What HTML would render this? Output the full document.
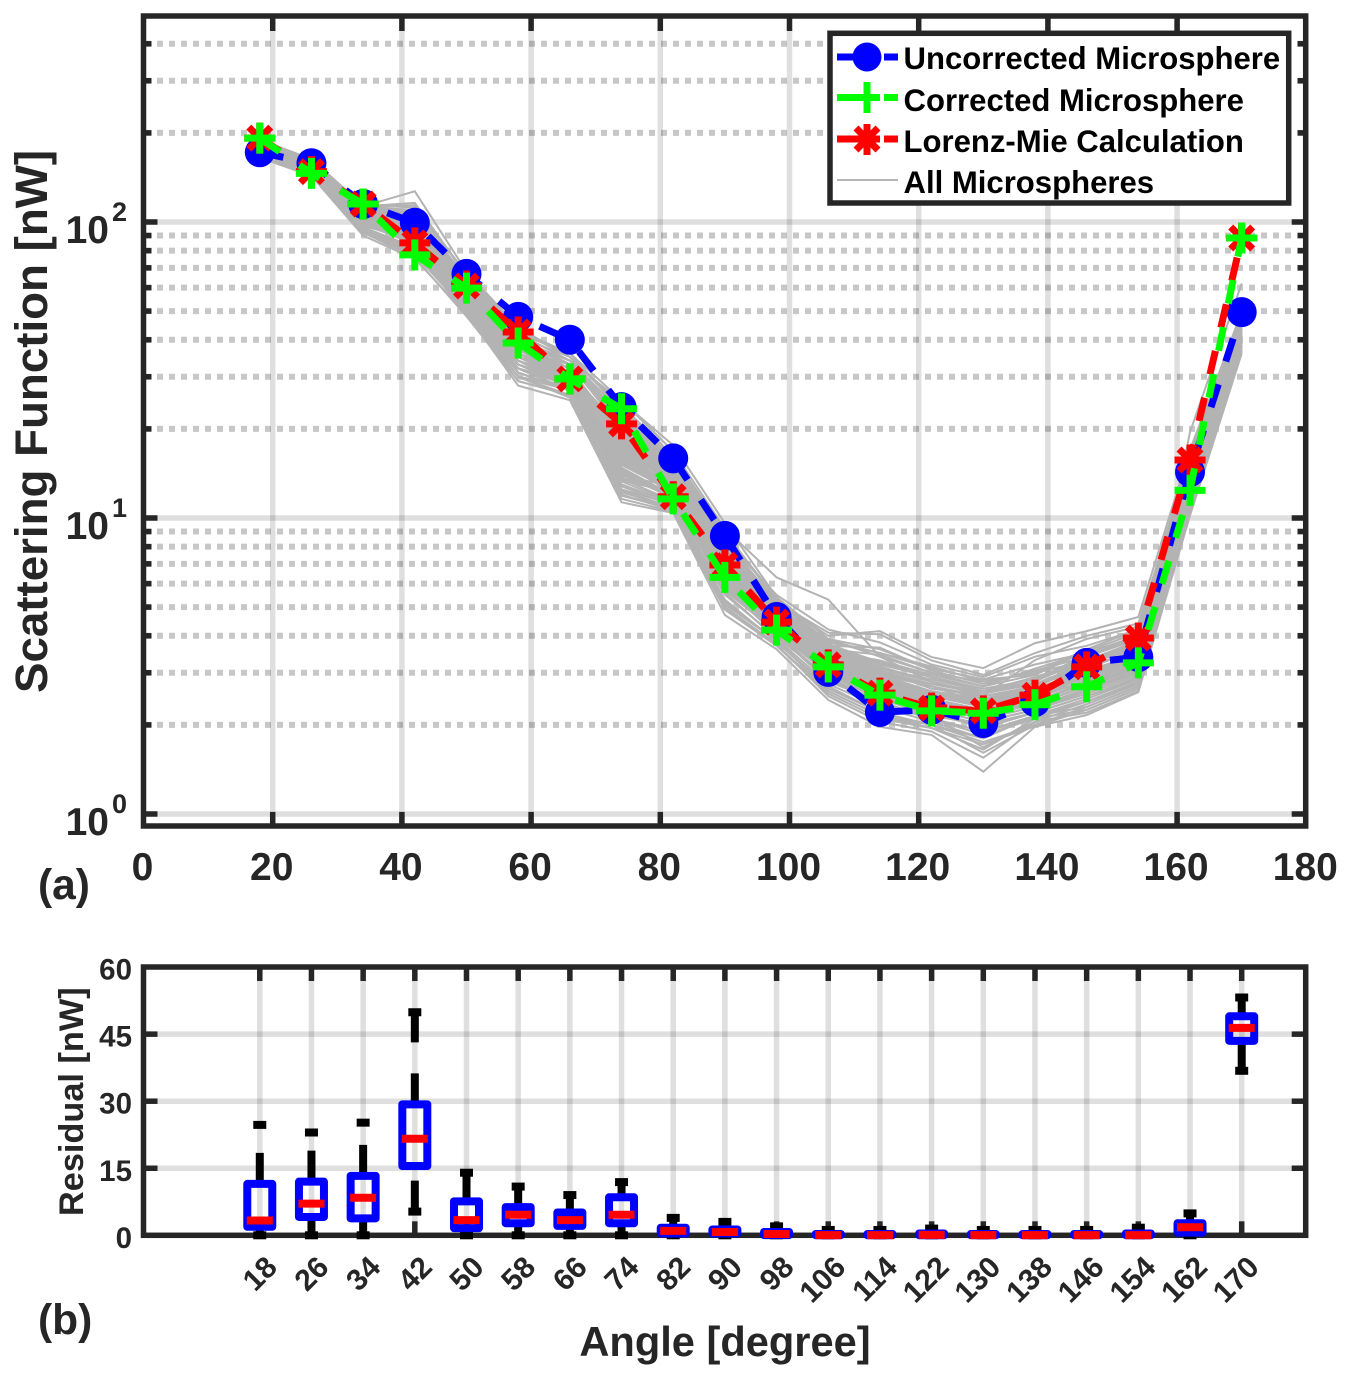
<!DOCTYPE html>
<html lang="en">
<head>
<meta charset="utf-8">
<title>Scattering Function and Residual Chart</title>
<style>
html,body{margin:0;padding:0;background:#fff;}
body{width:1352px;height:1378px;overflow:hidden;}
svg{display:block;font-family:"Liberation Sans",Arial,sans-serif;font-weight:bold;}
</style>
</head>
<body>
<svg id="chart" xmlns="http://www.w3.org/2000/svg" width="1352" height="1378" viewBox="0 0 1352 1378">
  <rect x="0" y="0" width="1352" height="1378" fill="#fff"/>
  <g id="top-grid"></g>
  <g id="bottom-grid"></g>
  <g id="gray-lines"></g>
  <g id="top-frame"></g>
  <g id="series-layer"></g>
  <g id="bottom-frame"></g>
  <g id="box-layer"></g>
  <g id="tick-labels"></g>

  <text transform="translate(47,693) rotate(-90)" font-size="45.7" fill="#262626">Scattering Function [nW]</text>
  <text transform="translate(83,1216) rotate(-90)" font-size="34.3" fill="#262626">Residual [nW]</text>
  <text x="725" y="1356" text-anchor="middle" font-size="41.6" fill="#262626">Angle [degree]</text>
  <text x="38" y="899" font-size="42.5" fill="#262626">(a)</text>
  <text x="38" y="1334" font-size="42.5" fill="#262626">(b)</text>

  <g id="legend">
    <rect x="830" y="33.3" width="458.7" height="169.7" fill="#fff" stroke="#262626" stroke-width="5.5"/>
    <g>
      <line x1="837" y1="57" x2="880" y2="57" stroke="#0000ff" stroke-width="7"/>
      <line x1="884" y1="57" x2="898" y2="57" stroke="#0000ff" stroke-width="7"/>
      <circle cx="867" cy="57" r="14.5" fill="#0000ff"/>
      <text x="903.5" y="69" font-size="31.1" fill="#000">Uncorrected Microsphere</text>
    </g>
    <g>
      <line x1="837" y1="97.5" x2="880" y2="97.5" stroke="#00ff00" stroke-width="7"/>
      <line x1="884" y1="97.5" x2="898" y2="97.5" stroke="#00ff00" stroke-width="7"/>
      <line x1="867" y1="82" x2="867" y2="113" stroke="#00ff00" stroke-width="7"/>
      <text x="903.5" y="111" font-size="31.1" fill="#000">Corrected Microsphere</text>
    </g>
    <g>
      <line x1="837" y1="139" x2="880" y2="139" stroke="#ff0000" stroke-width="7"/>
      <line x1="884" y1="139" x2="898" y2="139" stroke="#ff0000" stroke-width="7"/>
      <line x1="867" y1="124" x2="867" y2="155" stroke="#ff0000" stroke-width="7"/>
      <line x1="856" y1="128" x2="878" y2="150" stroke="#ff0000" stroke-width="7"/>
      <line x1="856" y1="150" x2="878" y2="128" stroke="#ff0000" stroke-width="7"/>
      <text x="903.5" y="152" font-size="31.1" fill="#000">Lorenz-Mie Calculation</text>
    </g>
    <g>
      <line x1="837" y1="180" x2="898" y2="180" stroke="#b5b5b5" stroke-width="2"/>
      <text x="903.5" y="193" font-size="31.1" fill="#000">All Microspheres</text>
    </g>
  </g>
</svg>

<script>
const angles = [18,26,34,42,50,58,66,74,82,90,98,106,114,122,130,138,146,154,162,170];
const uncorrected = [172,158,115,99.4,66.8,47.8,40,23.7,15.9,8.7,4.63,3.02,2.21,2.25,2.03,2.39,3.24,3.39,14.3,49.6];
const corrected = [192,146,115,77.4,59.8,39,29.5,23.4,11.6,6.3,4.18,3.14,2.52,2.23,2.19,2.34,2.69,3.24,12.4,88.3];
const lorenzMie = [192,148,115,85,60.8,42.5,29.5,20.8,11.8,6.94,4.45,3.19,2.56,2.28,2.23,2.52,3.14,3.93,15.7,88.3];

const allMicrospheres = [
[176,152,104,94,58,36,31,17.5,13.2,7.4,4.7,3.3,2.8,2.5,2.3,2.5,2.9,3.3,13.5,42],
[182,158,110,101,63,40,33,20.5,14.6,8.2,5.0,3.5,2.9,2.6,2.4,2.6,3.1,3.6,14.8,45],
[170,147,98,88,54,33,28,14.2,11.6,6.3,4.2,3.0,2.5,2.2,2.0,2.2,2.5,2.9,11.8,38],
[188,161,113,127,68,44,35,23.5,15.8,8.8,5.3,3.7,3.2,2.9,2.6,2.8,3.4,3.9,15.6,47],
[174,150,101,91,56,31,27,13.0,11.2,5.9,4.0,2.9,2.4,2.1,1.9,2.1,2.4,2.8,11.2,37],
[165,143,90,75,49,28,25,11.3,10.4,4.7,3.6,2.43,1.97,1.85,1.39,1.97,2.16,2.58,10.2,36],
[179,154,107,97,60,38,32,19.0,13.9,7.7,4.9,3.4,3.0,2.7,2.45,2.7,3.2,3.5,14.2,44],
[185,160,112,114,66,42,34,24.8,17.6,9.6,5.4,3.9,3.4,3.0,2.8,3.0,3.6,4.2,16.6,50],
[172,148,100,86,53,34,29,15.4,12.1,6.7,4.4,3.1,2.6,2.3,2.1,2.3,2.6,3.0,12.4,39],
[177,153,105,92,59,37,30,16.6,12.7,7.0,4.5,3.2,2.7,2.4,2.2,2.4,2.8,3.2,13.0,41],
[168,145,94,79,50,30,26,12.2,10.9,5.3,3.8,2.7,2.2,2.0,1.61,2.0,2.3,2.7,10.8,37],
[183,157,111,108,64,41,33,22.4,15.2,8.5,5.1,3.6,3.1,2.8,2.55,2.9,3.3,3.8,15.2,46],
[175,151,103,96,57,35,30,18.2,13.5,7.2,4.6,3.25,2.75,2.45,2.25,2.45,2.85,3.25,13.2,41.5],
[190,163,114,112,67,43,36,25,16.8,9.2,6.3,5.3,3.4,2.8,2.5,2.7,3.2,3.7,15.9,48],
[171,149,99,84,52,32,28,13.6,11.4,6.0,4.1,2.85,2.35,2.15,1.68,2.05,2.35,2.75,11.5,38],
[178,155,106,99,61,39,31,19.8,14.2,7.9,4.8,3.35,2.85,2.55,2.35,2.55,3.0,3.4,13.9,43],
[173,146,102,89,55,34,29,15.9,12.4,6.5,4.3,3.05,2.55,2.25,2.05,2.25,2.55,2.95,12.1,39.5],
[186,159,109,105,65,41,35,21.6,15.0,8.4,5.2,4.0,4.15,3.39,3.11,3.78,4.15,4.63,17,49],
[181,156,108,98,62,39,32,18.7,13.7,7.6,4.75,3.45,3.05,2.65,2.5,3.31,3.9,4.3,14.5,43.5],
[169,144,96,82,51,31,27,12.8,11.0,5.6,3.9,2.75,2.3,2.05,1.8,2.15,2.45,2.85,11.0,37.5],
[176,150,103,93,58,36,30,16.1,12.9,7.1,4.55,3.15,2.65,2.35,2.15,2.35,2.7,3.1,12.7,40],
[184,160,111,103,64,40,34,22.9,15.5,8.6,5.05,3.55,3.3,2.95,2.7,3.1,3.5,4.0,15.0,46.5],
[172,147,97,87,53,33,28,14.8,11.9,6.2,4.25,2.95,2.45,2.2,1.95,2.2,2.5,2.9,12.0,38.5],
[180,153,107,95,60,38,31,20.0,14.0,7.8,4.85,3.4,2.95,2.6,2.4,2.65,3.05,3.45,14.0,43],
[177,152,105,100,59,37,33,17.0,13.0,7.3,4.65,3.3,2.7,2.5,2.3,2.5,2.95,3.35,13.3,42],
[166,146,92,78,50,29,26,11.9,10.7,5.0,3.7,2.6,2.15,1.95,1.72,1.98,2.25,2.65,10.5,36.5],
[187,162,112,110,67,43,35,24.0,16.2,9.0,5.25,3.75,3.25,2.9,2.65,2.85,3.45,3.95,15.4,47.5],
[174,149,101,90,55,35,29,15.1,12.3,6.6,4.35,3.1,2.6,2.3,2.1,2.3,2.65,3.05,12.3,39],
[179,155,106,96,61,38,32,18.4,13.6,7.5,4.7,3.3,2.9,2.55,2.35,2.6,3.0,3.4,13.7,44],
[183,158,109,102,63,40,34,21.1,14.8,8.3,4.95,3.6,3.0,2.75,2.6,2.75,3.25,3.75,14.6,45.5],
[170,148,100,85,52,32,27,13.3,11.3,5.8,4.05,2.8,2.4,2.1,1.85,2.1,2.4,2.8,11.3,37.8],
[175,152,103,92,57,36,30,16.9,12.6,6.9,4.5,3.2,2.75,2.4,2.2,2.4,2.75,3.15,12.9,40.5],
[189,157,113,116,66,42,36,23.0,15.4,8.9,5.35,3.8,3.5,3.1,2.85,2.95,3.55,4.1,16.0,48.5],
[177,151,104,94,58,37,31,17.8,13.3,7.2,4.6,3.25,2.8,2.45,2.25,2.5,2.9,3.3,13.4,41.5],
[171,145,95,81,51,30,28,12.5,11.1,5.5,3.95,2.9,2.35,2.1,1.9,2.15,2.4,2.75,11.4,38.2],
[181,154,108,99,62,39,33,20.9,14.4,8.0,4.9,3.45,2.95,2.7,2.5,2.7,3.15,3.55,14.3,44.5],
[173,150,99,88,54,33,29,14.5,12.0,6.4,4.3,3.0,2.5,2.25,2.05,2.25,2.6,3.0,12.2,39.2],
[178,156,105,97,60,38,30,19.3,13.8,7.7,4.8,3.3,2.85,2.5,2.3,2.55,2.95,3.35,13.6,42.5],
[176,153,102,91,56,35,31,16.3,12.5,6.8,4.45,3.15,2.7,2.35,2.15,2.35,2.7,3.1,12.8,40.2],
[184,159,110,106,65,41,33,22.0,15.1,8.1,5.0,3.5,3.1,2.85,2.6,2.9,3.3,3.85,15.3,46],
[168,147,93,80,50,31,27,12.0,10.6,5.2,3.85,2.65,2.2,2.0,1.75,2.0,2.3,2.7,19.5,62],
[180,155,107,95,59,37,32,18.9,13.4,7.5,4.65,3.35,2.9,2.6,2.4,2.6,3.05,3.45,13.8,43],
[175,149,101,89,55,34,28,15.6,12.2,6.6,4.4,3.05,2.55,2.3,2.1,2.3,2.6,3.05,12.5,39.8],
[182,157,109,100,63,40,34,21.4,14.7,8.3,5.15,3.65,3.15,2.8,2.55,2.8,3.35,3.7,14.9,45],
[173,148,98,86,53,32,29,14.0,11.7,6.1,4.15,2.95,2.45,2.15,2.0,2.2,2.5,2.85,11.7,38.5],
[178,154,106,93,60,38,31,17.3,13.1,7.0,4.55,3.2,2.65,2.4,2.25,2.45,2.85,3.25,13.1,41],
[177,152,104,98,58,36,30,19.5,14.1,7.4,4.7,3.3,2.8,2.55,2.3,2.55,3.0,3.3,13.6,42],
[174,151,102,90,56,35,30,13.9,12.8,6.9,4.5,3.1,2.6,2.35,2.2,2.35,2.7,3.2,12.6,40.8],
[177,153,103,92,57,35,30,16,12.8,7.6,5.2,4.1,4.05,3.3,2.95,3.5,4.0,4.4,15.5,46],
[180,156,106,96,60,37,31,18,13.8,8.4,5.5,4.2,3.8,3.2,2.9,3.4,3.7,4.2,14.8,45],
[174,150,100,88,54,33,28,14.6,11.8,6.9,4.9,3.9,3.6,3.1,2.85,3.2,3.5,4.0,13.0,41],
[171,148,98,85,52,32,27,13.4,12.2,7.2,5.0,3.85,3.5,3.15,2.8,3.0,3.3,3.7,12.5,40],
[183,158,108,100,62,39,33,20,14.5,7.8,5.1,3.7,3.65,3.05,2.75,3.05,3.4,3.9,14.0,43],
[176,152,104,93,58,36,29,15.2,13.0,6.6,4.6,3.6,3.45,3.0,2.7,2.95,3.6,3.8,13.4,42],
[179,155,107,97,59,38,32,17.2,11.5,6.2,4.5,3.5,3.3,2.9,2.65,2.85,3.25,3.6,12.9,41],
[169,144,92,76,48,29,26,12.4,10.8,5.0,3.75,2.5,2.05,1.9,1.55,2.05,2.2,2.6,10.6,36],
[172,146,94,78,50,30,25.5,11.6,10.5,4.9,3.7,2.55,2.1,1.95,1.65,2.1,2.25,2.65,11.0,37],
[170,145,95,80,49,30,27,11.9,10.9,5.1,3.85,2.6,2.15,2.0,1.8,2.15,2.3,2.7,11.2,38],
[175,149,99,84,53,31,27,14.4,11.7,5.7,4.1,3.0,2.6,2.55,2.4,2.7,2.65,3.0,11.9,39],
[178,154,102,90,55,33,29,15.8,12.6,6.3,4.3,3.2,2.95,2.7,2.35,2.5,2.8,3.1,12.6,40],
[181,151,105,94,56,34,30,16.4,12.9,6.8,4.4,3.35,3.05,2.75,2.55,2.75,3.05,3.3,13.3,41],
[173,147,101,87,54,32,28,13.7,11.9,6.0,4.2,3.15,2.75,2.6,2.45,2.6,2.75,3.15,12.2,40]
];

const boxLow    = [0,0,0,5.3,0,0,0,0,0,0,0,0,0,0,0,0,0,0,0,36.8];
const boxQ1     = [1.9,4.1,3.8,15.5,1.6,2.7,2.1,2.7,0.4,0.4,0.05,0.02,0.02,0.02,0.02,0.02,0.02,0.02,0.6,43.5];
const boxMedian = [3.3,7.1,8.4,21.6,3.4,4.6,3.4,4.6,1.0,0.75,0.3,0.05,0.05,0.1,0.03,0.05,0.05,0.05,1.8,46.4];
const boxQ3     = [11.5,12,13.3,29.3,7.6,6.3,5.1,8.5,1.7,1.3,0.75,0.3,0.3,0.4,0.3,0.3,0.3,0.4,2.7,49];
const boxHigh   = [24.7,23,25.2,49.9,14,10.9,9,11.9,3.9,3,2,1.2,1.2,1.5,1.2,1.2,1.2,1.7,4.9,53.2];

const xTicks = [0,20,40,60,80,100,120,140,160,180];
const decades = [0,1,2];
const minorMultipliers = [2,3,4,5,6,7,8,9];
const residualTicks = [0,15,30,45,60];

const NS = 'http://www.w3.org/2000/svg';
const INK = '#262626';
const TOP_LEFT = 143.5, TOP_RIGHT = 1305.7, TOP_TOP = 16, TOP_BOTTOM = 826;
const BOT_TOP = 967, BOT_BOTTOM = 1235.3;

function x(v){ return 143.5 + 6.46 * v; }
function yLog(v){ return 814 - 296 * Math.log10(v); }
function yRes(v){ return 1235.3 - 4.47 * v; }

function make(tag, attrs, parent){
  const node = document.createElementNS(NS, tag);
  for (const k in attrs) node.setAttribute(k, attrs[k]);
  parent.appendChild(node);
  return node;
}
const topGrid = document.getElementById('top-grid');
const bottomGrid = document.getElementById('bottom-grid');
const grayLines = document.getElementById('gray-lines');
const topFrame = document.getElementById('top-frame');
const seriesLayer = document.getElementById('series-layer');
const bottomFrame = document.getElementById('bottom-frame');
const boxLayer = document.getElementById('box-layer');
const tickLabels = document.getElementById('tick-labels');

/* top grid */
decades.forEach(function(d){
  minorMultipliers.forEach(function(m){
    const v = m * Math.pow(10, d);
    if (yLog(v) < TOP_TOP + 3) return;
    const el = make('line', {x1:145, x2:TOP_RIGHT, y1:yLog(v), y2:yLog(v), stroke:'#000', 'stroke-opacity':0.22, 'stroke-width':6, 'stroke-dasharray':'6 6'}, topGrid);
    
    
  });
  const el = make('line', {x1:TOP_LEFT, x2:TOP_RIGHT, y1:yLog(Math.pow(10,d)), y2:yLog(Math.pow(10,d)), stroke:'#000', 'stroke-opacity':0.125, 'stroke-width':5.5}, topGrid);
  
  
});
xTicks.slice(1,-1).forEach(function(t){
  const el = make('line', {x1:x(t), x2:x(t), y1:TOP_TOP, y2:TOP_BOTTOM, stroke:'#000', 'stroke-opacity':0.125, 'stroke-width':5.5}, topGrid);
  
  
});

/* gray lines */
allMicrospheres.forEach(function(run){
  const pts = run.map(function(v,i){ return x(angles[i]).toFixed(1) + ',' + yLog(v).toFixed(1); }).join(' ');
  const el = make('polyline', {points:pts, fill:'none', stroke:'#b3b3b3', 'stroke-width':2}, grayLines);
  
  
});

/* top frame and ticks */
(function(){
  const frame = make('rect', {x:TOP_LEFT, y:TOP_TOP, width:TOP_RIGHT-TOP_LEFT, height:TOP_BOTTOM-TOP_TOP, fill:'none', stroke:INK, 'stroke-width':5.5}, topFrame);
  
  
  xTicks.slice(1,-1).forEach(function(t){
    const a = make('line', {x1:x(t), x2:x(t), y1:TOP_BOTTOM, y2:TOP_BOTTOM-14, stroke:INK, 'stroke-width':5.5}, topFrame);
    
    
    const b = make('line', {x1:x(t), x2:x(t), y1:TOP_TOP, y2:TOP_TOP+15, stroke:INK, 'stroke-width':5.5}, topFrame);
    
    
  });
  decades.forEach(function(d){
    const yy = yLog(Math.pow(10,d));
    const a = make('line', {x1:TOP_LEFT, x2:TOP_LEFT+14, y1:yy, y2:yy, stroke:INK, 'stroke-width':5.5}, topFrame);
    
    
    const b = make('line', {x1:TOP_RIGHT, x2:TOP_RIGHT-14, y1:yy, y2:yy, stroke:INK, 'stroke-width':5.5}, topFrame);
    
    
    minorMultipliers.forEach(function(m){
      const ym = yLog(m*Math.pow(10,d));
      if (ym < TOP_TOP + 3) return;
      const c = make('line', {x1:TOP_LEFT, x2:TOP_LEFT+8, y1:ym, y2:ym, stroke:INK, 'stroke-width':5.5}, topFrame);
      
      
      const e = make('line', {x1:TOP_RIGHT, x2:TOP_RIGHT-8, y1:ym, y2:ym, stroke:INK, 'stroke-width':5.5}, topFrame);
      
      
    });
  });
})();

/* main series: dash period is fitted so the phase matches at both path ends */
function drawSeries(values, color, name, endOffset, markerKind){
  const g = make('g', {}, seriesLayer);
  
  
  const pts = values.map(function(v,i){ return x(angles[i]).toFixed(1) + ',' + yLog(v).toFixed(1); }).join(' ');
  const line = make('polyline', {points:pts, fill:'none', stroke:color, 'stroke-width':7, 'stroke-linejoin':'miter'}, g);
  
  
  const total = line.getTotalLength() - endOffset;
  const period = total / Math.round(total / 47.8);
  line.setAttribute('stroke-dasharray', (period / 2).toFixed(3) + ' ' + (period / 2).toFixed(3));
  values.forEach(function(v,i){
    const cx = x(angles[i]), cy = yLog(v);
    if (markerKind === 'circle'){
      const c = make('circle', {cx:cx, cy:cy, r:15, fill:color}, g);
      
      
    } else {
      const m = make('g', {stroke:color, 'stroke-width':7}, g);
      
      
      make('line', {x1:cx-15.5, x2:cx+15.5, y1:cy, y2:cy}, m);
      make('line', {x1:cx, x2:cx, y1:cy-15.5, y2:cy+15.5}, m);
      if (markerKind === 'star'){
        make('line', {x1:cx-11, x2:cx+11, y1:cy-11, y2:cy+11}, m);
        make('line', {x1:cx-11, x2:cx+11, y1:cy+11, y2:cy-11}, m);
      }
    }
  });
}
drawSeries(uncorrected, '#0000ff', 'uncorrected', 100, 'circle');
drawSeries(lorenzMie, '#ff0000', 'lorenz-mie', 92, 'star');
drawSeries(corrected, '#00ff00', 'corrected', 67, 'plus');

/* lower panel grid */
residualTicks.slice(1,-1).forEach(function(t){
  const el = make('line', {x1:TOP_LEFT, x2:TOP_RIGHT, y1:yRes(t), y2:yRes(t), stroke:'#000', 'stroke-opacity':0.125, 'stroke-width':5.5}, bottomGrid);
  
  
});
angles.forEach(function(a){
  const el = make('line', {x1:x(a), x2:x(a), y1:BOT_TOP, y2:BOT_BOTTOM, stroke:'#000', 'stroke-opacity':0.125, 'stroke-width':5.5}, bottomGrid);
  
  
});

/* lower panel frame */
(function(){
  const frame = make('rect', {x:TOP_LEFT, y:BOT_TOP, width:TOP_RIGHT-TOP_LEFT, height:BOT_BOTTOM-BOT_TOP, fill:'none', stroke:INK, 'stroke-width':5.5}, bottomFrame);
  
  
  angles.forEach(function(a){
    const t1 = make('line', {x1:x(a), x2:x(a), y1:BOT_BOTTOM, y2:BOT_BOTTOM-14, stroke:INK, 'stroke-width':5.5}, bottomFrame);
    
    
    const t2 = make('line', {x1:x(a), x2:x(a), y1:BOT_TOP, y2:BOT_TOP+14, stroke:INK, 'stroke-width':5.5}, bottomFrame);
    
    
  });
  residualTicks.slice(1,-1).forEach(function(t){
    const t1 = make('line', {x1:TOP_LEFT, x2:TOP_LEFT+14, y1:yRes(t), y2:yRes(t), stroke:INK, 'stroke-width':5.5}, bottomFrame);
    
    
    const t2 = make('line', {x1:TOP_RIGHT, x2:TOP_RIGHT-14, y1:yRes(t), y2:yRes(t), stroke:INK, 'stroke-width':5.5}, bottomFrame);
    
    
  });
})();

/* box plots */
angles.forEach(function(a,i){
  const cx = x(a);
  const g = make('g', {}, boxLayer);
  
  
  const up = make('line', {x1:cx, x2:cx, y1:yRes(boxQ3[i]), y2:yRes(boxHigh[i]), stroke:'#000', 'stroke-width':8, 'stroke-dasharray':'31 31'}, g);
  
  
  const down = make('line', {x1:cx, x2:cx, y1:yRes(boxLow[i]), y2:yRes(boxQ1[i]), stroke:'#000', 'stroke-width':8, 'stroke-dasharray':'31 31'}, g);
  
  
  const capHi = make('line', {x1:cx-6.5, x2:cx+6.5, y1:yRes(boxHigh[i]), y2:yRes(boxHigh[i]), stroke:'#000', 'stroke-width':8}, g);
  
  
  const capLo = make('line', {x1:cx-6.5, x2:cx+6.5, y1:yRes(boxLow[i]), y2:yRes(boxLow[i]), stroke:'#000', 'stroke-width':8}, g);
  
  
  const box = make('rect', {x:cx-12.5, y:yRes(boxQ3[i]), width:25, height:yRes(boxQ1[i])-yRes(boxQ3[i]), fill:'none', stroke:'#0000ff', 'stroke-width':8, 'stroke-linejoin':'round'}, g);
  
  
  const med = make('line', {x1:cx-13, x2:cx+13, y1:yRes(boxMedian[i]), y2:yRes(boxMedian[i]), stroke:'#ff0000', 'stroke-width':8}, g);
  
  
});

/* tick labels */
xTicks.forEach(function(t){
  const el = make('text', {x:x(t)-1, y:880, 'text-anchor':'middle', 'font-size':39, fill:INK}, tickLabels);
  
  
  el.textContent = String(t);
});
decades.forEach(function(d){
  const yy = yLog(Math.pow(10,d));
  const base = make('text', {x:109, y:yy+21, 'text-anchor':'end', 'font-size':39, fill:INK}, tickLabels);
  
  
  base.textContent = '10';
  const sup = make('text', {x:112, y:yy-1, 'font-size':27, fill:INK}, tickLabels);
  
  
  sup.textContent = String(d);
});
residualTicks.forEach(function(t){
  const el = make('text', {x:132, y:yRes(t)+12.5, 'text-anchor':'end', 'font-size':29.5, fill:INK}, tickLabels);
  
  
  el.textContent = String(t);
});
angles.forEach(function(a){
  const px = x(a) + 19, py = 1269;
  const el = make('text', {transform:'translate(' + px + ',' + py + ') rotate(-45)', 'text-anchor':'end', 'font-size':30, fill:INK}, tickLabels);
  
  
  el.textContent = String(a);
});
</script>
</body>
</html>
